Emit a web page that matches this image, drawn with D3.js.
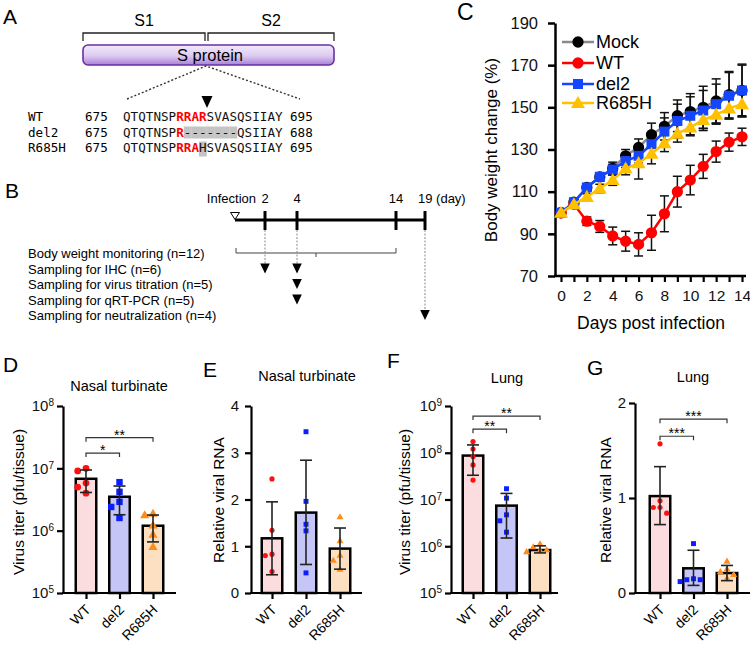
<!DOCTYPE html>
<html><head><meta charset="utf-8">
<script src="https://cdn.jsdelivr.net/npm/d3@7"></script>
<style>body{margin:0;background:#fff} svg text{font-family:"Liberation Sans",Arial,sans-serif}</style>
</head><body><svg id="fig" width="750" height="645"></svg>
<script>
// ================= DATA =================
const groups = ["WT", "del2", "R685H"];

// Panel A
const seqNames = ["WT", "del2", "R685H"];
const seqStartNum = ["675", "675", "675"];
const seqEndNum = ["695", "688", "695"];
const seqs = ["QTQTNSPRRARSVASQSIIAY", "QTQTNSPR-------QSIIAY", "QTQTNSPRRAHSVASQSIIAY"];
const seqRed = [[7, 8, 9, 10], [7], [7, 8, 9]];
const seqGray = [[], [8, 9, 10, 11, 12, 13, 14], [10]];

// Panel B
const tlDays = [2, 4, 14, 19];
const tlLabels = ["2", "4", "14", "19 (day)"];
const tlRows = ["Body weight monitoring (n=12)", "Sampling for IHC (n=6)", "Sampling for virus titration (n=5)", "Sampling for qRT-PCR (n=5)", "Sampling for neutralization (n=4)"];
const tlSampling = [[1, 2], [1, 4], [2, 4], [3, 4], [4, 19]]; // [row, day]
const tlMonitor = [0, 14];

// Panel C
const days = [0, 1, 2, 3, 4, 5, 6, 7, 8, 9, 10, 11, 12, 13, 14];
const seriesNames = ["Mock", "WT", "del2", "R685H"];
const mockW = [100, 105, 112, 117, 121, 127, 131, 137, 141, 146, 148, 150, 153, 156, 158];
const mockSD = [0, 1, 1.5, 2, 3, 3, 4, 5.5, 6.5, 7.5, 8.5, 10, 10.5, 11, 12];
const wtW = [100, 104, 96, 93.5, 89, 86.5, 85, 90.5, 99.5, 110, 115.5, 122, 129, 133.5, 136];
const wtSD = [0, 1, 2, 2.8, 4.2, 4.7, 5.5, 8.3, 8.5, 7.3, 7, 5.7, 5, 4.3, 4.1];
const del2W = [100, 105, 112, 117, 120.5, 124.5, 127, 132.5, 138.5, 143.5, 146, 148.5, 151.5, 155.5, 158];
const del2SD = [0, 1, 1.5, 2, 2.5, 3, 3.5, 5, 6.5, 8, 9, 9.5, 9.5, 11, 12.5];
const r685hW = [100, 104, 107.5, 111.5, 115.5, 121, 123.5, 128, 133, 137.5, 140.5, 144, 146.5, 149.5, 151.5];
const r685hSD = [0, 1, 1.5, 2, 2.5, 3, 7.5, 4.8, 4, 4, 4, 4, 4, 5, 6];
const cTicksY = [70, 90, 110, 130, 150, 170, 190];
const cTicksX = [0, 2, 4, 6, 8, 10, 12, 14];

// Panel D: nasal turbinate virus titer
const dMean = [6.8e6, 3.5e6, 1.2e6];
const dUpper = [9.4e6, 5.2e6, 1.78e6];
const dLower = [4.1e6, 1.8e6, 6.6e5];
const dPoints = [[9.1e6, 1.0e7, 5.0e6, 5.8e6, 4.0e6], [6.0e6, 4.2e6, 2.9e6, 2.4e6, 1.6e6], [1.85e6, 1.75e6, 1.2e6, 8.5e5, 5.4e5]];
// Panel E: nasal turbinate RNA
const eMean = [1.17, 1.72, 0.95];
const eUpper = [1.95, 2.84, 1.39];
const eLower = [0.39, 0.61, 0.51];
const ePoints = [[2.44, 1.34, 0.80, 0.83, 0.46], [3.45, 1.96, 1.47, 1.33, 0.43], [1.62, 1.11, 0.80, 0.69, 0.50]];
// Panel F: lung virus titer
const fMean = [8.7e7, 7.4e6, 8.3e5];
const fUpper = [1.47e8, 1.35e7, 1.02e6];
const fLower = [3.3e7, 1.5e6, 7.2e5];
const fPoints = [[1.74e8, 1.2e8, 8.3e7, 5.5e7, 2.6e7], [1.7e7, 1.07e7, 4.7e6, 3.5e6, 2.0e6], [1.1e6, 9.5e5, 8.0e5, 7.5e5, 8.2e5]];
// Panel G: lung RNA
const gMean = [1.02, 0.26, 0.21];
const gUpper = [1.33, 0.45, 0.29];
const gLower = [0.72, 0.08, 0.13];
const gPoints = [[1.57, 0.97, 0.90, 0.90, 0.84], [0.52, 0.15, 0.14, 0.14, 0.12], [0.33, 0.25, 0.22, 0.19, 0.15]];

// significance brackets [from, to, level(data units), label]
const dSig = [[0, 1, 1.76e7, "*"], [0, 2, 3.1e7, "**"]];
const fSig = [[0, 1, 3.2e8, "**"], [0, 2, 6.1e8, "**"]];
const gSig = [[0, 1, 1.65, "***"], [0, 2, 1.83, "***"]];

// ================= DRAWING =================
const svg = d3.select("#fig");
svg.append("rect").attr("width", 750).attr("height", 645).attr("fill", "#fff");

function letter(t, x, y, fs) {
  svg.append("text").attr("x", x).attr("y", y).attr("font-size", fs || 21).attr("fill", "#000").text(t);
}

// ---------- Panel A ----------
letter("A", 3, 24);
const defs = svg.append("defs");
const grad = defs.append("linearGradient").attr("id", "protGrad").attr("x1", 0).attr("y1", 0).attr("x2", 0).attr("y2", 1);
grad.append("stop").attr("offset", "0%").attr("stop-color", "#f3ebfb");
grad.append("stop").attr("offset", "55%").attr("stop-color", "#dccaf1");
grad.append("stop").attr("offset", "100%").attr("stop-color", "#a97fd8");

const gA = svg.append("g");
const brk = [[83, 205, "S1"], [208, 334, "S2"]];
brk.forEach(b => {
  gA.append("path").attr("d", `M${b[0]},41V33H${b[1]}V41`).attr("fill", "none").attr("stroke", "#222").attr("stroke-width", 1.3);
  gA.append("text").attr("x", (b[0] + b[1]) / 2).attr("y", 26).attr("text-anchor", "middle").attr("font-size", 16).text(b[2]);
});
gA.append("rect").attr("x", 83).attr("y", 45).attr("width", 251).attr("height", 20).attr("rx", 5)
  .attr("fill", "url(#protGrad)").attr("stroke", "#6b2fa3").attr("stroke-width", 1.6);
gA.append("text").attr("x", 210).attr("y", 61).attr("text-anchor", "middle").attr("font-size", 16.5).text("S protein");
gA.append("path").attr("d", "M127,99L206,66L300,99").attr("fill", "none").attr("stroke", "#333").attr("stroke-width", 1.4).attr("stroke-dasharray", "2,2");
gA.append("path").attr("d", "M201.5,96L212.5,96L207,108Z").attr("fill", "#000");

const cw = 7.6, seqX = 123;
const rowY = [121, 137, 152];
seqs.forEach((s, r) => {
  seqGray[r].forEach(i => {
    const ext = r === 2 ? 3 : 0;
    gA.append("rect").attr("x", seqX + i * cw).attr("y", rowY[r] - 10.5).attr("width", cw + 0.2).attr("height", 12 + ext).attr("fill", "#c4c4c4");
  });
  const mono = gA.append("g").attr("font-size", 12.6);
  mono.append("text").attr("x", 28).attr("y", rowY[r]).style("font-family", "'DejaVu Sans Mono',monospace").text(seqNames[r]);
  mono.append("text").attr("x", 85).attr("y", rowY[r]).style("font-family", "'DejaVu Sans Mono',monospace").text(seqStartNum[r]);
  mono.append("text").attr("x", 290).attr("y", rowY[r]).style("font-family", "'DejaVu Sans Mono',monospace").text(seqEndNum[r]);
  s.split("").forEach((ch, i) => {
    const red = seqRed[r].includes(i);
    mono.append("text").attr("x", seqX + i * cw + cw / 2).attr("y", rowY[r]).attr("text-anchor", "middle")
      .style("font-family", "'DejaVu Sans Mono',monospace")
      .attr("fill", red ? "#ff0000" : "#111").attr("font-weight", red ? "bold" : "normal").text(ch);
  });
});

// ---------- Panel B ----------
letter("B", 5, 198);
const gB = svg.append("g");
const tlX = d3.scaleLinear().domain([0, 2, 4, 14, 19]).range([235, 265, 297, 396, 425]);
const tlY = 220;
gB.append("line").attr("x1", tlX(0)).attr("x2", tlX(19)).attr("y1", tlY).attr("y2", tlY).attr("stroke", "#000").attr("stroke-width", 3);
tlDays.forEach((d, i) => {
  gB.append("line").attr("x1", tlX(d)).attr("x2", tlX(d)).attr("y1", tlY - 9).attr("y2", tlY + 10).attr("stroke", "#000").attr("stroke-width", 3);
  gB.append("text").attr("x", i === 3 ? tlX(d) - 7 : tlX(d)).attr("y", 203).attr("text-anchor", i === 3 ? "start" : "middle").attr("font-size", 13).text(tlLabels[i]);
});
gB.append("text").attr("x", 256).attr("y", 203).attr("text-anchor", "end").attr("font-size", 13).text("Infection");
gB.append("path").attr("d", `M${tlX(0) - 4.5},212.5H${tlX(0) + 4.5}L${tlX(0)},219.5Z`).attr("fill", "#fff").attr("stroke", "#000").attr("stroke-width", 1);
const rowBase = i => 258 + i * 15.5;
tlRows.forEach((t, i) => {
  gB.append("text").attr("x", 28).attr("y", rowBase(i)).attr("font-size", 13).text(t);
});
// monitoring bracket
const m0 = tlX(tlMonitor[0]) + 1, m1 = tlX(tlMonitor[1]);
gB.append("path").attr("d", `M${m0},248V253H${m1}V248M${(m0 + m1) / 2},253V257`).attr("fill", "none").attr("stroke", "#444").attr("stroke-width", 1);
// dashed drops
const dropDays = Array.from(new Set(tlSampling.map(s => s[1])));
dropDays.forEach(d => {
  const firstRow = d3.min(tlSampling.filter(s => s[1] === d), s => s[0]);
  gB.append("line").attr("x1", tlX(d)).attr("x2", tlX(d)).attr("y1", tlY + 10).attr("y2", rowBase(firstRow) - 10)
    .attr("stroke", "#888").attr("stroke-width", 1).attr("stroke-dasharray", "2,1.5");
});
tlSampling.forEach(s => {
  const x = tlX(s[1]), yb = rowBase(s[0]);
  gB.append("path").attr("d", `M${x - 4.8},${yb - 10}H${x + 4.8}L${x},${yb}Z`).attr("fill", "#000");
});

// ---------- Panel C ----------
letter("C", 457, 20, 23);
const gC = svg.append("g");
const xC = d3.scaleLinear().domain([0, 14]).range([561, 742]);
const yC = d3.scaleLinear().domain([70, 190]).range([276, 23]);
const yAxC = gC.append("g").attr("transform", "translate(555,0)")
  .call(d3.axisLeft(yC).tickValues(cTicksY).tickSize(7).tickSizeOuter(0).tickPadding(10));
yAxC.select(".domain").attr("stroke-width", 2.5);
yAxC.selectAll(".tick line").attr("stroke-width", 2.5);
yAxC.selectAll("text").attr("font-size", 16.5).attr("font-family", null).attr("fill", "#111");
gC.append("line").attr("x1", 554).attr("x2", 746).attr("y1", 276).attr("y2", 276).attr("stroke", "#000").attr("stroke-width", 2.5);
const xAxC = gC.append("g").attr("transform", "translate(0,276)")
  .call(d3.axisBottom(xC).tickValues(days).tickSize(6).tickPadding(8)
    .tickFormat(d => cTicksX.includes(d) ? d : ""));
xAxC.select(".domain").remove();
xAxC.selectAll(".tick line").attr("stroke-width", 2.2);
xAxC.selectAll("text").attr("font-size", 15.5).attr("font-family", null).attr("fill", "#111");
gC.append("text").attr("x", 651).attr("y", 329).attr("text-anchor", "middle").attr("font-size", 17.5).text("Days post infection");
gC.append("text").attr("transform", "translate(491,150) rotate(-90)").attr("dy", "0.35em").attr("text-anchor", "middle").attr("font-size", 17).text("Body weight change (%)");

const cSeries = [
  { name: seriesNames[0], v: mockW, sd: mockSD, line: "#8a8a8a", mark: "#000", sym: d3.symbolCircle, size: 100 },
  { name: seriesNames[1], v: wtW, sd: wtSD, line: "#ff0000", mark: "#ff0000", sym: d3.symbolCircle, size: 100 },
  { name: seriesNames[2], v: del2W, sd: del2SD, line: "#1446ff", mark: "#1446ff", sym: d3.symbolSquare, size: 100 },
  { name: seriesNames[3], v: r685hW, sd: r685hSD, line: "#ffc000", mark: "#ffc000", sym: d3.symbolTriangle, size: 85 }
];
cSeries.forEach(s => {
  const eg = gC.append("g").attr("stroke", "#111").attr("stroke-width", 1.5);
  days.forEach((d, i) => {
    if (!s.sd[i]) return;
    const x = xC(d), y1 = yC(s.v[i] - s.sd[i]), y2 = yC(s.v[i] + s.sd[i]);
    eg.append("line").attr("x1", x).attr("x2", x).attr("y1", y1).attr("y2", y2);
    eg.append("line").attr("x1", x - 4.5).attr("x2", x + 4.5).attr("y1", y1).attr("y2", y1);
    eg.append("line").attr("x1", x - 4.5).attr("x2", x + 4.5).attr("y1", y2).attr("y2", y2);
  });
});
cSeries.forEach(s => {
  gC.append("path").datum(days).attr("fill", "none").attr("stroke", s.line).attr("stroke-width", 2.5)
    .attr("d", d3.line().x(d => xC(d)).y((d, i) => yC(s.v[i])));
  gC.selectAll(null).data(days).join("path")
    .attr("transform", (d, i) => `translate(${xC(d)},${yC(s.v[i]) + (s.sym === d3.symbolTriangle ? 1 : 0)})`)
    .attr("d", d3.symbol().type(s.sym).size(s.size)).attr("fill", s.mark);
});
// legend
const legY = [42, 63, 84, 103];
cSeries.forEach((s, i) => {
  gC.append("line").attr("x1", 562).attr("x2", 594).attr("y1", legY[i]).attr("y2", legY[i]).attr("stroke", s.line).attr("stroke-width", 2.5);
  gC.append("path").attr("transform", `translate(578,${legY[i] + (s.sym === d3.symbolTriangle ? 1 : 0)})`).attr("d", d3.symbol().type(s.sym).size(s.size)).attr("fill", s.mark);
  gC.append("text").attr("x", 596).attr("y", legY[i]).attr("dy", "0.36em").attr("font-size", 18).text(s.name);
});

// ---------- Bar panels D-G ----------
const barFill = ["#fbdde0", "#c5c6f7", "#fde0c2"];
const dotCol = ["#ff1010", "#0a1eff", "#ff8c1a"];
const dotSym = [d3.symbolCircle, d3.symbolSquare, d3.symbolTriangle];

function swarmOffsets(vals, y, r) {
  const order = vals.map((v, i) => i).sort((a, b) => vals[b] - vals[a]);
  const placed = [], off = new Array(vals.length);
  const step = 2 * r + 1.5;
  order.forEach(i => {
    const py = y(vals[i]);
    for (const k of [0, -1, 1, -2, 2, -3, 3]) {
      const px = k * step;
      if (placed.every(p => Math.hypot(p[0] - px, p[1] - py) >= 2 * r + 1)) { off[i] = px; placed.push([px, py]); break; }
    }
  });
  return off;
}

function barPanel(c) {
  const g = svg.append("g");
  const x = d3.scalePoint().domain(groups).range([c.ax + c.c0, c.ax + c.c1]);
  const y = (c.log ? d3.scaleLog() : d3.scaleLinear()).domain(c.domain).range([593, c.yt]);
  const yb = 593, bw = 20.5;
  letter(c.letter[0], c.letter[1], c.letter[2]);
  g.append("text").attr("x", c.title[1]).attr("y", c.title[2]).attr("text-anchor", "middle").attr("font-size", 14.5).text(c.title[0]);
  g.append("text").attr("transform", `translate(${c.ylab[1]},${c.ylab[2]}) rotate(-90)`).attr("dy", "0.35em").attr("text-anchor", "middle").attr("font-size", 15.5).text(c.ylab[0]);
  // bars
  g.selectAll(null).data(groups).join("rect")
    .attr("x", d => x(d) - bw / 2).attr("y", (d, i) => y(c.mean[i]))
    .attr("width", bw).attr("height", (d, i) => yb - y(c.mean[i]))
    .attr("fill", (d, i) => barFill[i]).attr("stroke", "#000").attr("stroke-width", 2.5);
  // points
  groups.forEach((gname, gi) => {
    const off = swarmOffsets(c.pts[gi], y, c.r);
    g.selectAll(null).data(c.pts[gi]).join("path")
      .attr("transform", (v, j) => `translate(${x(gname) + off[j]},${y(v)})`)
      .attr("d", d3.symbol().type(dotSym[gi]).size(gi === 2 ? c.r * c.r * 3.2 : gi === 1 ? c.r * c.r * 3.6 : Math.PI * c.r * c.r))
      .attr("fill", dotCol[gi]);
  });
  // error bars
  const eg = g.append("g").attr("stroke", "#222").attr("stroke-width", 1.6);
  groups.forEach((gname, gi) => {
    const cx = x(gname), y1 = y(c.lo[gi]), y2 = y(c.hi[gi]);
    eg.append("line").attr("x1", cx).attr("x2", cx).attr("y1", y1).attr("y2", y2);
    [y1, y2].forEach(yy => eg.append("line").attr("x1", cx - 6).attr("x2", cx + 6).attr("y1", yy).attr("y2", yy));
  });
  // axes
  const ya = g.append("g").attr("transform", `translate(${c.ax},0)`)
    .call(d3.axisLeft(y).tickValues(c.ticks).tickSize(6).tickSizeOuter(0).tickPadding(c.pad).tickFormat(c.log ? () => "" : d3.format("d")));
  ya.select(".domain").attr("stroke-width", 2.2);
  ya.selectAll(".tick line").attr("stroke-width", 2.2);
  ya.selectAll("text").attr("font-size", 15).attr("font-family", null).attr("fill", "#111");
  if (c.log) {
    ya.selectAll(".tick text").each(function (v) {
      const t = d3.select(this);
      t.text(null);
      t.append("tspan").text("10");
      t.append("tspan").attr("dy", "-0.5em").attr("font-size", 10).text(Math.round(Math.log10(v)));
    });
  }
  g.append("line").attr("x1", c.ax - 1).attr("x2", c.ax + c.xend).attr("y1", yb).attr("y2", yb).attr("stroke", "#000").attr("stroke-width", 2.2);
  const xa = g.append("g").attr("transform", `translate(0,${yb})`).call(d3.axisBottom(x).tickSize(6).tickFormat(""));
  xa.select(".domain").remove();
  xa.selectAll(".tick line").attr("stroke-width", 2.2);
  groups.forEach(gname => {
    g.append("text").attr("transform", `translate(${x(gname) + 2},${yb + 14}) rotate(-45)`).attr("text-anchor", "end")
      .attr("dy", "0.35em").attr("font-size", 14).text(gname);
  });
  // significance
  (c.sig || []).forEach(s => {
    const x1 = x(groups[s[0]]), x2 = x(groups[s[1]]), yy = y(s[2]);
    g.append("path").attr("d", `M${x1},${yy + 4}V${yy}H${x2}V${yy + 4}`).attr("fill", "none").attr("stroke", "#333").attr("stroke-width", 1.2);
    g.append("text").attr("x", (x1 + x2) / 2).attr("y", yy + 2).attr("text-anchor", "middle").attr("font-size", 14).text(s[3]);
  });
}

barPanel({ letter: ["D", 3, 372], title: ["Nasal turbinate", 119, 391], ylab: ["Virus titer (pfu/tissue)", 19, 502],
  ax: 63, c0: 23, c1: 90, xend: 113, yt: 406, log: true, domain: [1e5, 1e8], ticks: [1e5, 1e6, 1e7, 1e8], pad: 3,
  mean: dMean, hi: dUpper, lo: dLower, pts: dPoints, r: 3.4, sig: dSig });
barPanel({ letter: ["E", 203, 377], title: ["Nasal turbinate", 307, 381], ylab: ["Relative viral RNA", 219, 500],
  ax: 251, c0: 21, c1: 89, xend: 111, yt: 406, log: false, domain: [0, 4], ticks: [0, 1, 2, 3, 4], pad: 6,
  mean: eMean, hi: eUpper, lo: eLower, pts: ePoints, r: 2.6 });
barPanel({ letter: ["F", 387, 368], title: ["Lung", 507, 383], ylab: ["Virus titer (pfu/tissue)", 405, 502],
  ax: 451, c0: 22, c1: 89, xend: 107, yt: 406, log: true, domain: [1e5, 1e9], ticks: [1e5, 1e6, 1e7, 1e8, 1e9], pad: 3,
  mean: fMean, hi: fUpper, lo: fLower, pts: fPoints, r: 2.6, sig: fSig });
barPanel({ letter: ["G", 587, 375], title: ["Lung", 693, 382], ylab: ["Relative viral RNA", 606, 500],
  ax: 635, c0: 25, c1: 92, xend: 116, yt: 403, log: false, domain: [0, 2], ticks: [0, 1, 2], pad: 3,
  mean: gMean, hi: gUpper, lo: gLower, pts: gPoints, r: 2.6, sig: gSig });
</script></body></html>
